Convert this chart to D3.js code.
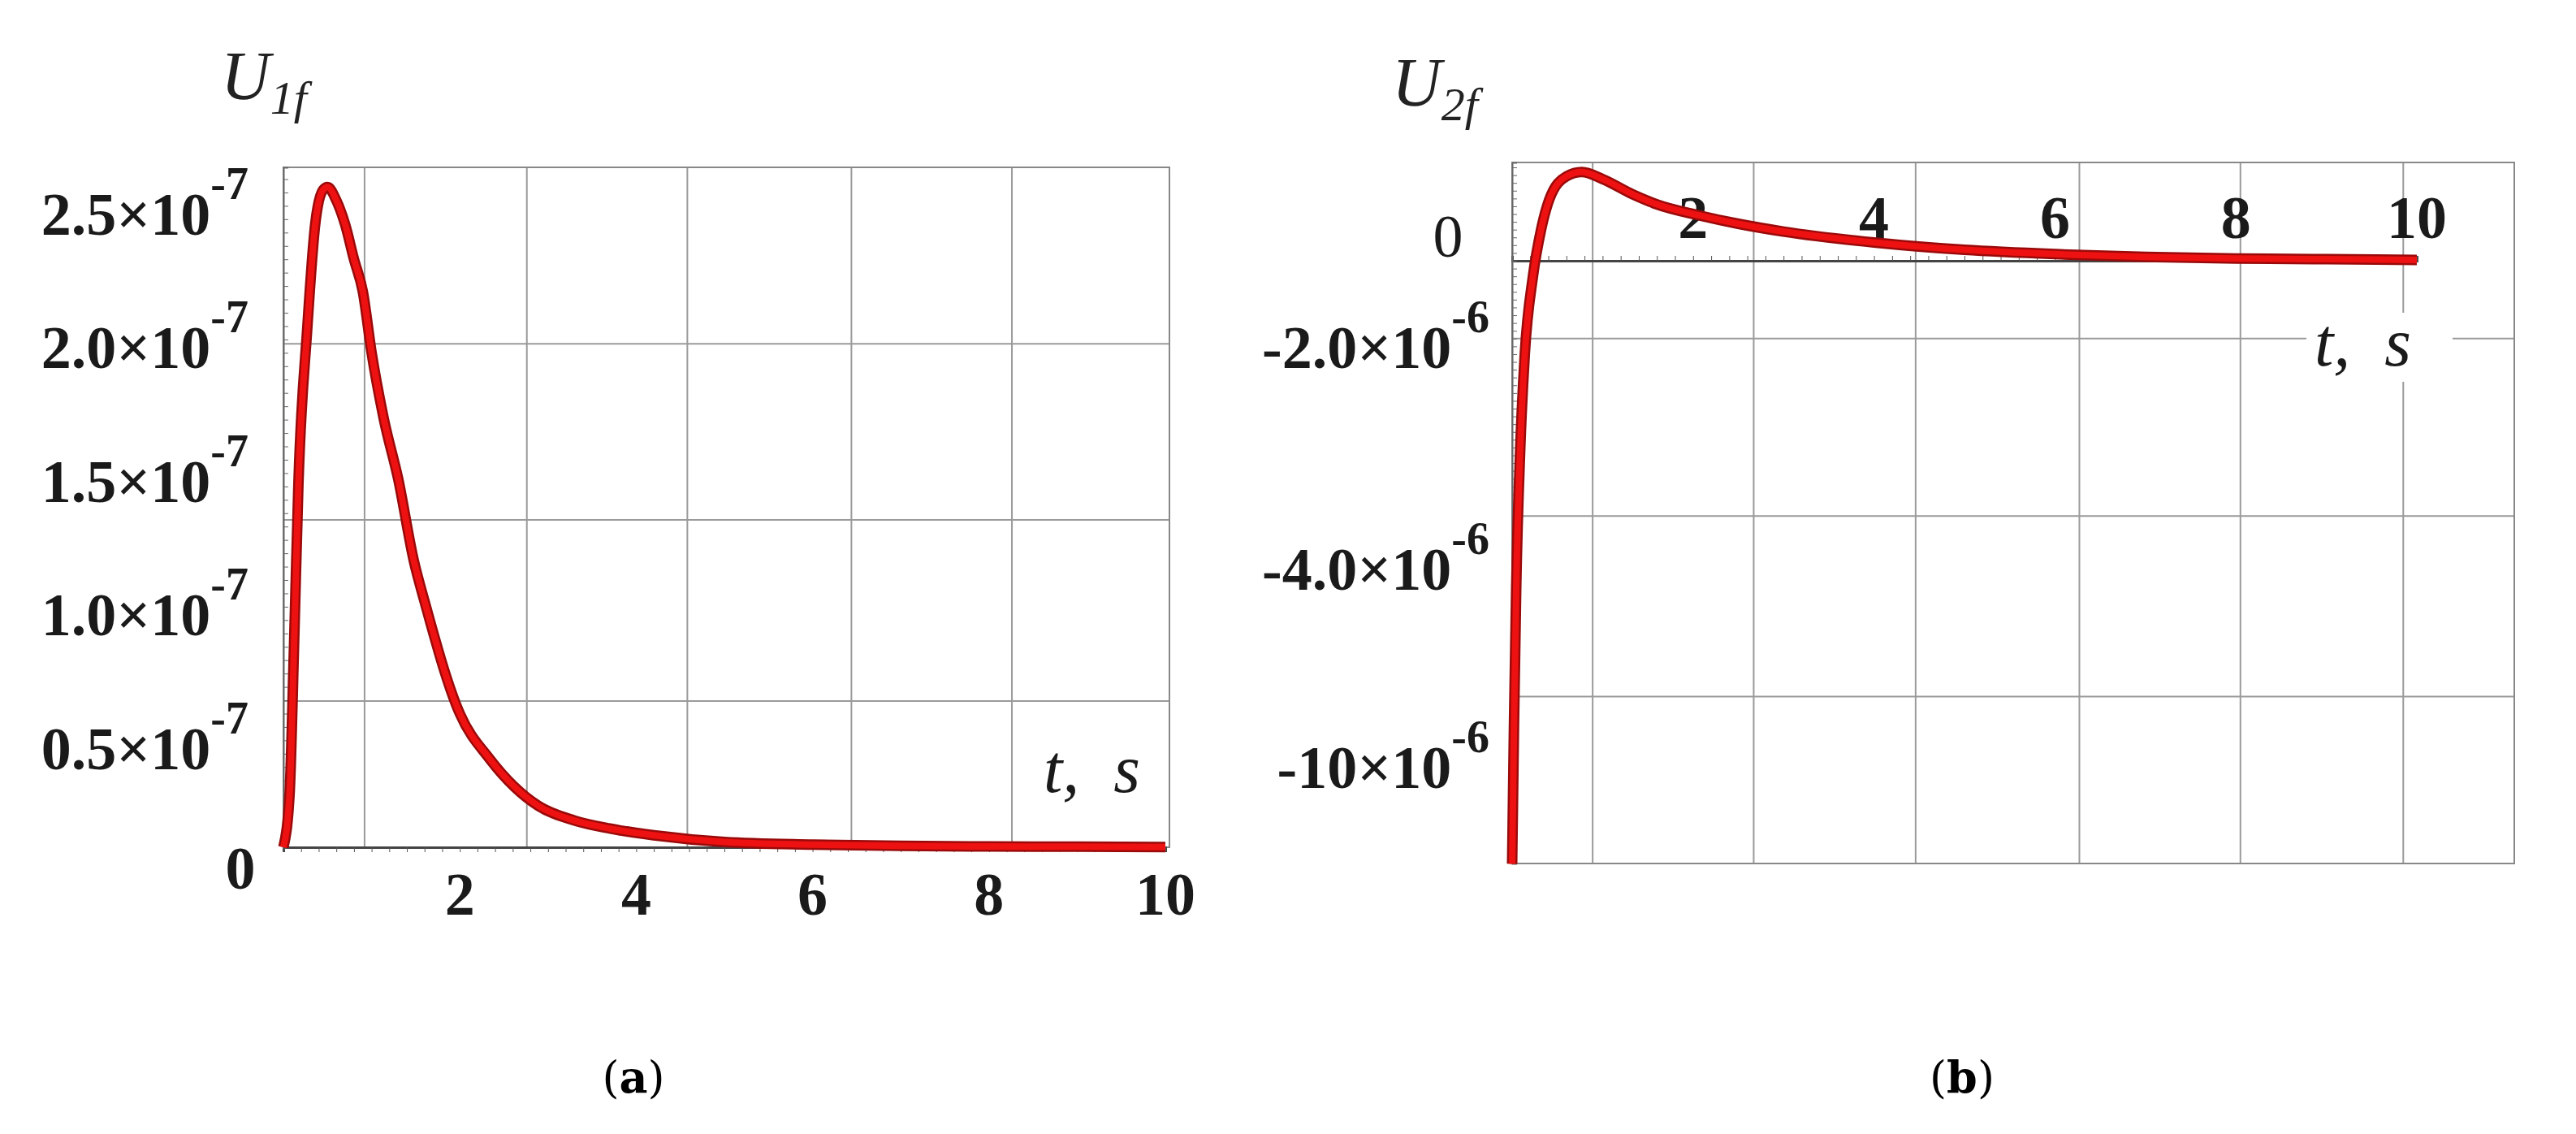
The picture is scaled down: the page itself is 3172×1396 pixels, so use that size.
<!DOCTYPE html>
<html><head><meta charset="utf-8">
<script src="https://cdn.jsdelivr.net/npm/d3@7"></script>
<style>body{margin:0;background:#fff}</style></head>
<body><svg id="c" width="3172" height="1396"></svg>
<script>
// Panel (a) data: U1f vs t
const tA = [0,0.07,0.12,0.17,0.27,0.36,0.45,0.5,0.6,0.7,0.8,0.9,1.0,1.14,1.3,1.48,1.6,2.0,2.34,2.89,3.3,3.7,4.2,5,6,7,8,9,10];
const uA = [0,0.2e-7,0.75e-7,1.36e-7,1.94e-7,2.33e-7,2.46e-7,2.47e-7,2.42e-7,2.33e-7,2.2e-7,2.08e-7,1.85e-7,1.6e-7,1.38e-7,1.07e-7,0.92e-7,0.5e-7,0.33e-7,0.155e-7,0.1e-7,0.07e-7,0.045e-7,0.02e-7,0.01e-7,0.005e-7,0.003e-7,0.002e-7,0.001e-7];
// Panel (b) data: U2f vs t
const tB = [0,0.02,0.045,0.09,0.14,0.23,0.32,0.41,0.6,0.77,1.0,1.33,1.6,2.06,2.5,3,4,5,6,7,8,9,10];
const uB = [-15.5e-6,-12e-6,-8.4e-6,-4.8e-6,-2.4e-6,-0.4e-6,0.8e-6,1.57e-6,2.17e-6,2.28e-6,2.1e-6,1.71e-6,1.45e-6,1.17e-6,0.95e-6,0.75e-6,0.47e-6,0.28e-6,0.17e-6,0.1e-6,0.06e-6,0.04e-6,0.02e-6];
const xTicks = [2,4,6,8,10];
const gridXA = [0.92,2.76,4.58,6.44,8.26];
const gridYA = [1.884e-7,1.225e-7,0.547e-7];
const yLabelsA = [["2.5","-7",2.5e-7],["2.0","-7",2.0e-7],["1.5","-7",1.5e-7],["1.0","-7",1.0e-7],["0.5","-7",0.5e-7]];
const gridXB = [0.89,2.67,4.46,6.27,8.05,9.85];
const gridYB = [-2.0e-6,-6.56e-6,-11.2e-6];
const yLabelsB = [["-2.0","-6",-2.0e-6],["-4.0","-6",-7.7e-6],["-10","-6",-12.8e-6]];

const svg = d3.select("#c");
const serif = "Liberation Serif, DejaVu Serif, serif";
const red = "#ee1111";

function exLabel(g, x, y, base, ex){
  const t = g.append("text").attr("x",x).attr("y",y).attr("text-anchor","end")
    .attr("font-family",serif).attr("font-weight","bold").attr("font-size",74).attr("fill","#1a1a1a");
  t.append("tspan").text(base+"×10");
  t.append("tspan").attr("dy",-44).attr("font-size",56).text(ex);
}
function curve(g, pts, x, y){
  const line = d3.line().x(d=>x(d[0])).y(d=>y(d[1])).curve(d3.curveMonotoneX);
  g.append("path").datum(pts).attr("d",line).attr("fill","none").attr("stroke","#9a0a0a").attr("stroke-width",13).attr("stroke-linejoin","round");
  g.append("path").datum(pts).attr("d",line).attr("fill","none").attr("stroke",red).attr("stroke-width",8).attr("stroke-linejoin","round");
}

// ---------- Panel (a) ----------
{
  const x = d3.scaleLinear().domain([0,10]).range([349,1435]);
  const y = d3.scaleLinear().domain([0,1e-7]).range([1043,714]);
  const g = svg.append("g");
  const L=349,R=1440,T=206,B=1043;
  g.selectAll(".gx").data(gridXA).join("line").attr("x1",d=>x(d)).attr("x2",d=>x(d)).attr("y1",T).attr("y2",B).attr("stroke","#9a9a9a").attr("stroke-width",2);
  g.selectAll(".gy").data(gridYA).join("line").attr("x1",L).attr("x2",R).attr("y1",d=>y(d)).attr("y2",d=>y(d)).attr("stroke","#9a9a9a").attr("stroke-width",2);
  g.append("rect").attr("x",L).attr("y",T).attr("width",R-L).attr("height",B-T).attr("fill","none").attr("stroke","#888").attr("stroke-width",2);
  g.append("g").attr("transform",`translate(0,${B})`).call(d3.axisBottom(x).ticks(50).tickSize(6).tickFormat("")).call(a=>a.select(".domain").attr("stroke","#444").attr("stroke-width",3)).selectAll("line").attr("stroke","#555");
  g.append("g").attr("transform",`translate(${L},0)`).call(d3.axisLeft(y.copy().domain([y.invert(B),y.invert(T)]).range([B,T])).ticks(60).tickSize(-6).tickFormat("")).call(a=>a.select(".domain").attr("stroke","#666").attr("stroke-width",2)).selectAll("line").attr("stroke","#666");
  g.selectAll(".xl").data(xTicks).join("text").attr("x",d=>x(d)).attr("y",1126).attr("text-anchor","middle")
    .attr("font-family",serif).attr("font-weight","bold").attr("font-size",74).attr("fill","#1a1a1a").text(d=>d);
  g.append("text").attr("x",296).attr("y",1094).attr("text-anchor","middle").attr("font-family",serif).attr("font-weight","bold").attr("font-size",74).attr("fill","#1a1a1a").text("0");
  yLabelsA.forEach(d=>exLabel(g,306,y(d[2])+68,d[0],d[1]));
  g.append("text").attr("x",1285).attr("y",975).attr("font-family",serif).attr("font-style","italic").attr("font-size",84).attr("fill","#1a1a1a").attr("xml:space","preserve").text("t,  s");
  const ut = g.append("text").attr("x",272).attr("y",122).attr("font-family",serif).attr("font-style","italic").attr("font-size",84).attr("fill","#222");
  ut.append("tspan").text("U");
  ut.append("tspan").attr("dy",18).attr("font-size",58).text("1f");
  curve(g, tA.map((t,i)=>[t,uA[i]]), x, y);
  g.append("text").attr("x",780).attr("y",1345).attr("text-anchor","middle").attr("font-family","DejaVu Serif, serif").attr("font-size",54).attr("fill","#000")
    .html('(<tspan font-weight="bold">a</tspan>)');
}

// ---------- Panel (b) ----------
{
  const x = d3.scaleLinear().domain([0,10]).range([1862,2976]);
  const y = d3.scaleLinear().domain([0,-1e-6]).range([321,368.9]);
  const g = svg.append("g");
  const L=1862,R=3096,T=200,B=1063;
  g.selectAll(".gx").data(gridXB).join("line").attr("x1",d=>x(d)).attr("x2",d=>x(d)).attr("y1",T).attr("y2",B).attr("stroke","#9a9a9a").attr("stroke-width",2);
  g.selectAll(".gy").data(gridYB).join("line").attr("x1",L).attr("x2",R).attr("y1",d=>y(d)).attr("y2",d=>y(d)).attr("stroke","#9a9a9a").attr("stroke-width",2);
  g.append("rect").attr("x",L).attr("y",T).attr("width",R-L).attr("height",B-T).attr("fill","none").attr("stroke","#888").attr("stroke-width",2);
  g.append("g").attr("transform",`translate(0,${y(0)})`).call(d3.axisBottom(x).ticks(50).tickSize(-6).tickFormat("")).call(a=>a.select(".domain").attr("stroke","#444").attr("stroke-width",3)).selectAll("line").attr("stroke","#555");
  g.append("g").attr("transform",`translate(${L},0)`).call(d3.axisLeft(y.copy().domain([y.invert(T),y.invert(B)]).range([T,B])).ticks(60).tickSize(-6).tickFormat("")).call(a=>a.select(".domain").attr("stroke","#666").attr("stroke-width",2)).selectAll("line").attr("stroke","#666");
  g.selectAll(".xl").data(xTicks).join("text").attr("x",d=>x(d)).attr("y",293).attr("text-anchor","middle")
    .attr("font-family",serif).attr("font-weight","bold").attr("font-size",74).attr("fill","#1a1a1a").text(d=>d);
  g.append("text").attr("x",1783).attr("y",316).attr("text-anchor","middle").attr("font-family",serif).attr("font-size",74).attr("fill","#1a1a1a").text("0");
  yLabelsB.forEach(d=>exLabel(g,1834,y(d[2])+36,d[0],d[1]));
  g.append("rect").attr("x",2840).attr("y",385).attr("width",180).attr("height",85).attr("fill","#fff");
  g.append("text").attr("x",2850).attr("y",450).attr("font-family",serif).attr("font-style","italic").attr("font-size",84).attr("fill","#1a1a1a").attr("xml:space","preserve").text("t,  s");
  const ut = g.append("text").attr("x",1714).attr("y",130).attr("font-family",serif).attr("font-style","italic").attr("font-size",84).attr("fill","#222");
  ut.append("tspan").text("U");
  ut.append("tspan").attr("dy",18).attr("font-size",58).text("2f");
  curve(g, tB.map((t,i)=>[t,uB[i]]), x, y);
  g.append("text").attr("x",2416).attr("y",1345).attr("text-anchor","middle").attr("font-family","DejaVu Serif, serif").attr("font-size",54).attr("fill","#000")
    .html('(<tspan font-weight="bold">b</tspan>)');
}
</script></body></html>
